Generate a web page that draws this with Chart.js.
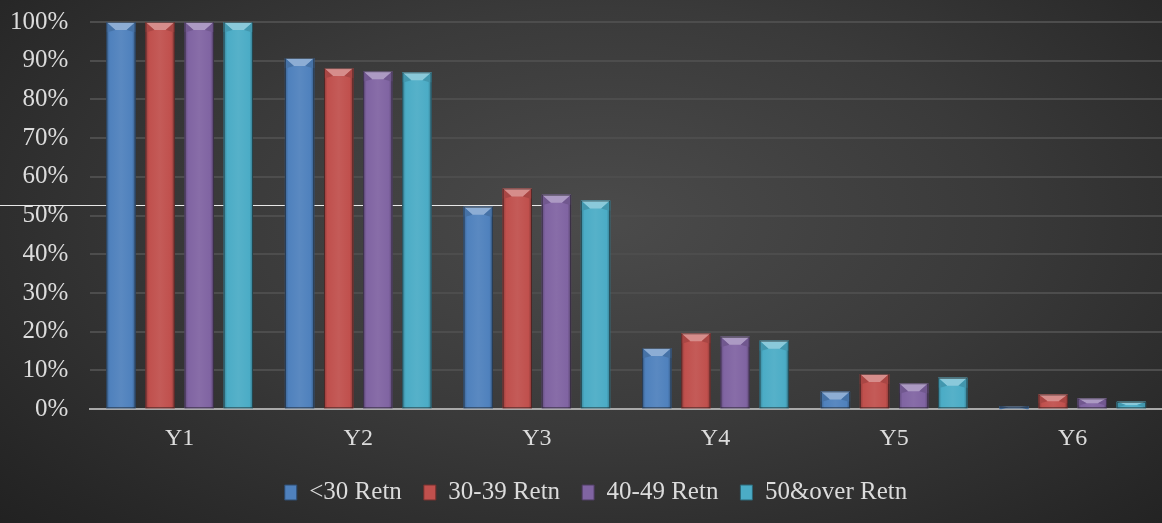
<!DOCTYPE html>
<html>
<head>
<meta charset="utf-8">
<script src="https://cdn.jsdelivr.net/npm/chart.js@4/dist/chart.umd.min.js"></script>
<style>
  html, body { margin: 0; padding: 0; }
  body {
    width: 1162px; height: 523px; overflow: hidden;
    background: radial-gradient(ellipse 75% 90% at 52% 42%, #4b4b4b 0%, #3a3a3a 45%, #262626 85%, #1f1f1f 100%);
  }
  #wrap { position: relative; width: 1162px; height: 523px; }
</style>
</head>
<body>
<div id="wrap"><canvas id="retn" width="1162" height="523"></canvas></div>
<script>
// categories + series (fraction retained)
const years = ['Y1', 'Y2', 'Y3', 'Y4', 'Y5', 'Y6'];
const under30 = [100, 90.7, 52.3, 15.8, 4.6, 0.8];
const r30to39 = [100, 88.1, 57.0, 19.6, 9.1, 3.8];
const r40to49 = [100, 87.3, 55.4, 18.7, 6.7, 2.8];
const over50 = [100, 87.0, 53.9, 17.7, 8.1, 1.9];
const seriesNames = ['<30 Retn', '30-39 Retn', '40-49 Retn', '50&over Retn'];
const yTicks = [0, 10, 20, 30, 40, 50, 60, 70, 80, 90, 100];

const colors = ['#4f81bd', '#c0504d', '#8064a2', '#4bacc6'];

function shade(hex, amt) {
  let n = parseInt(hex.slice(1), 16);
  let r = (n >> 16) & 255, g = (n >> 8) & 255, b = n & 255;
  const f = v => Math.max(0, Math.min(255, Math.round(amt < 0 ? v * (1 + amt) : v + (255 - v) * amt)));
  return `rgb(${f(r)},${f(g)},${f(b)})`;
}

// bar body with darker edges, plus a lighter bevel on top
const bevelBars = {
  id: 'bevelBars',
  afterLayout(chart) {
    // legend sits a bit right of centre in the original
    chart.legend.left += 42;
  },
  beforeDatasetsDraw(chart) {
    // stray white rule from the original image
    const c = chart.ctx;
    c.save();
    c.strokeStyle = '#e8e8e8';
    c.lineWidth = 1.2;
    c.beginPath();
    c.moveTo(0, 205.5);
    c.lineTo(543, 205.5);
    c.stroke();
    c.restore();
  },
  afterDatasetsDraw(chart) {
    const c = chart.ctx;
    chart.data.datasets.forEach((ds, i) => {
      const meta = chart.getDatasetMeta(i);
      const base = colors[i];
      meta.data.forEach(bar => {
        const w = bar.width;
        const x0 = bar.x - w / 2, x1 = bar.x + w / 2;
        const top = bar.y, bot = bar.base;
        const h = bot - top;
        if (h <= 0) return;
        c.save();
        const g = c.createLinearGradient(x0, 0, x1, 0);
        g.addColorStop(0, shade(base, -0.25));
        g.addColorStop(0.12, base);
        g.addColorStop(0.5, shade(base, 0.06));
        g.addColorStop(0.88, base);
        g.addColorStop(1, shade(base, -0.3));
        c.fillStyle = g;
        c.fillRect(x0, top, w, h);
        const bev = Math.min(8, h / 2);
        const ins = Math.min(9, w / 3);
        // top bevel
        c.fillStyle = shade(base, 0.35);
        c.beginPath();
        c.moveTo(x0, top);
        c.lineTo(x1, top);
        c.lineTo(x1 - ins, top + bev);
        c.lineTo(x0 + ins, top + bev);
        c.closePath();
        c.fill();
        // side bevels
        c.fillStyle = shade(base, -0.12);
        c.beginPath();
        c.moveTo(x0, top); c.lineTo(x0 + ins, top + bev); c.lineTo(x0 + 2, top + bev + 2); c.lineTo(x0, top + bev + 2);
        c.closePath(); c.fill();
        c.beginPath();
        c.moveTo(x1, top); c.lineTo(x1 - ins, top + bev); c.lineTo(x1 - 2, top + bev + 2); c.lineTo(x1, top + bev + 2);
        c.closePath(); c.fill();
        c.strokeStyle = 'rgba(20,20,20,0.55)';
        c.lineWidth = 1;
        c.strokeRect(x0 + 0.5, top + 0.5, w - 1, h - 1);
        c.restore();
      });
    });
  }
};

const bucketData = [under30, r30to39, r40to49, over50];

new Chart(document.getElementById('retn'), {
  type: 'bar',
  data: {
    labels: years,
    datasets: bucketData.map((vals, i) => ({
      label: seriesNames[i],
      data: vals,
      backgroundColor: colors[i],
      borderWidth: 0,
      categoryPercentage: 0.876,
      barPercentage: 0.75
    }))
  },
  options: {
    responsive: false,
    animation: false,
    devicePixelRatio: 1,
    layout: { padding: { left: -12, right: 0, top: 0, bottom: 8 } },
    plugins: {
      legend: {
        position: 'bottom',
        labels: {
          color: '#dcdcdc',
          font: { family: 'Liberation Serif', size: 25 },
          boxWidth: 12,
          boxHeight: 15,
          padding: 22,
          generateLabels(chart) {
            return chart.data.datasets.map((ds, i) => ({
              text: ds.label,
              fillStyle: colors[i],
              strokeStyle: shade(colors[i], -0.4),
              lineWidth: 1,
              fontColor: '#dcdcdc',
              datasetIndex: i
            }));
          }
        }
      },
      tooltip: { enabled: false }
    },
    scales: {
      x: {
        grid: { display: false },
        border: { color: '#a9a9a9', width: 2 },
        ticks: { color: '#dcdcdc', font: { family: 'Liberation Serif', size: 24 }, padding: 7 },
        afterFit(axis) { axis.height -= 2; }
      },
      y: {
        min: 0,
        max: 100,
        afterBuildTicks(axis) { axis.ticks = yTicks.map(v => ({ value: v })); },
        afterFit(axis) { axis.paddingTop = 22; },
        grid: { color: '#4d4d4d', lineWidth: 2, drawTicks: false },
        border: { display: false },
        ticks: {
          color: '#dcdcdc',
          font: { family: 'Liberation Serif', size: 25 },
          padding: 22,
          callback: v => v + '%'
        }
      }
    }
  },
  plugins: [bevelBars]
});
</script>
</body>
</html>
